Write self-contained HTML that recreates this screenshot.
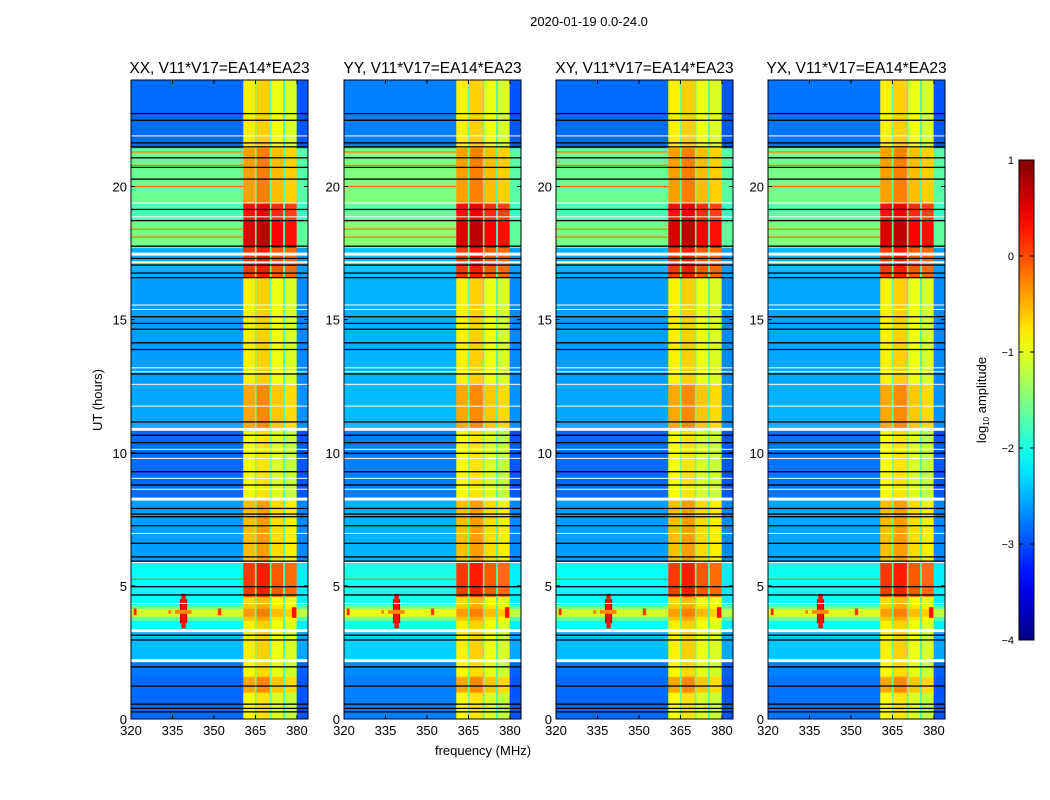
<!DOCTYPE html>
<html><head><meta charset="utf-8">
<style>
html,body{margin:0;padding:0;background:#fff;}
svg{display:block;font-family:"Liberation Sans","DejaVu Sans",sans-serif;}
</style></head>
<body>
<svg id="chart" width="1050" height="800" viewBox="0 0 1050 800" xmlns="http://www.w3.org/2000/svg">
<text x="589" y="26" font-size="13" text-anchor="middle">2020-01-19 0.0-24.0</text>
<text x="483" y="755" font-size="13" text-anchor="middle">frequency (MHz)</text>
<text x="102" y="400" font-size="13" text-anchor="middle" transform="rotate(-90 102 400)">UT (hours)</text>
<g id="panels"></g>
<g id="cbar"></g>
</svg>
<script>
// ---- data ----
const panelTitles = ["XX, V11*V17=EA14*EA23","YY, V11*V17=EA14*EA23","XY, V11*V17=EA14*EA23","YX, V11*V17=EA14*EA23"];
const panelOffsets = [0, 0.1, 0, 0.05];
const xTicks = [320,335,350,365,380];
const yTicks = [0,5,10,15,20];
const cbarTicks = [1,0,-1,-2,-3,-4];
// time segments (hours)
const segStart = [0, 1.0, 1.6, 2.2, 3.3, 3.7, 3.85, 4.15, 4.3, 4.6, 5.9, 8.3, 10.9, 12.6, 16.6, 17.7, 18.7, 19.4, 21.45];
const segEnd   = [1.0, 1.6, 2.2, 3.3, 3.7, 3.85, 4.15, 4.3, 4.6, 5.9, 8.3, 10.9, 12.6, 16.6, 17.7, 18.7, 19.4, 21.45, 24];
// background level and RFI band level per segment (log10 amplitude)
const bgLevel   = [-2.85,-2.85,-2.8,-2.45,-2.1,-1.6,-1.1,-1.6,-2.1,-2.1,-2.6,-2.85,-2.55,-2.6,-2.5,-1.55,-1.75,-1.6,-2.85];
const bandLevel = [-0.9,-0.45,-0.85,-0.8,-0.8,-0.6,-0.4,-0.6,-0.7,0.1,-0.55,-0.9,-0.45,-0.8,0.1,0.55,0.3,-0.4,-0.8];
// frequency columns (MHz), kind (0 bg, 1 band, 2 gap), offset
const colStart  = [320, 360.6, 364.8, 365.4, 370.2, 370.8, 375.0, 375.7, 379.9];
const colEnd    = [360.6, 364.8, 365.4, 370.2, 370.8, 375.0, 375.7, 379.9, 384];
const colKind   = [0, 1, 2, 1, 2, 1, 2, 1, 0];
const colOffset = [0, 0, 0.4, 0.15, 0.4, -0.15, 0.2, -0.25, 0];
// localized features: freq centre, width MHz, t0, t1, value
const featFreq = [339, 339, 338.9, 321.5, 352, 379, 334];
const featWidth= [2.6, 1.6, 6.0, 1.0, 1.2, 1.6, 1.0];
const featT0   = [3.6, 3.4, 3.95, 3.9, 3.9, 3.8, 3.95];
const featT1   = [4.5, 4.7, 4.1, 4.15, 4.15, 4.2, 4.1];
const featVal  = [0.6, 0.3, -0.3, 0.2, 0.1, 0.3, -0.3];
// horizontal lines
const orangeLines = [5.25, 18.1, 18.4, 20.0, 20.8, 21.3];
const blackLines = [0.27,0.40,0.56,1.24,1.96,2.97,3.15,4.66,4.97,5.93,6.09,6.60,7.26,7.60,7.70,7.91,8.79,9.29,9.98,10.38,10.66,11.16,12.96,13.88,14.13,14.64,14.86,15.11,16.58,16.75,17.05,17.30,17.76,18.72,19.14,20.28,20.72,21.08,21.49,21.64,22.49,22.74];
const whiteLines = [2.19,3.32,4.34,5.88,6.97,8.26,8.63,9.04,9.79,10.13,10.88,11.75,12.57,13.04,13.19,15.38,15.55,17.15,17.46,18.86,19.38,21.9];
const whiteWidth = [3,3,1,1,1,3,1,1,1,1,3,1,1,1,1,1,1,2,3,1,1,1];

// ---- drawing ----
const NS = "http://www.w3.org/2000/svg";
function mk(tag, attrs, parent){const e=document.createElementNS(NS,tag);for(const k in attrs)e.setAttribute(k,attrs[k]);parent.appendChild(e);return e;}
function jet(v){
  let t=(v+4)/5; t=Math.max(0,Math.min(1,t));
  const r=Math.max(0,Math.min(1,1.5-Math.abs(4*t-3)));
  const g=Math.max(0,Math.min(1,1.5-Math.abs(4*t-2)));
  const b=Math.max(0,Math.min(1,1.5-Math.abs(4*t-1)));
  return `rgb(${Math.round(r*255)},${Math.round(g*255)},${Math.round(b*255)})`;
}
const panelX = [131, 344, 556, 768];
const PW = 177, PT = 80, PB = 719;
const panels = document.getElementById('panels');
panelX.forEach((x0, p) => {
  const g = mk('g', {}, panels);
  
  
  const xs = f => x0 + (f - 320) / 64 * PW;
  const ys = h => PB - h / 24 * (PB - PT);
  const off = panelOffsets[p];
  for (let s = 0; s < segStart.length; s++) {
    for (let c = 0; c < colStart.length; c++) {
      let v;
      if (colKind[c] === 0) v = bgLevel[s] + off;
      else if (colKind[c] === 1) v = bandLevel[s] + colOffset[c];
      else v = Math.min(bandLevel[s], -1.2) - 0.8 + colOffset[c];
      if (c === colStart.length - 1) v = bgLevel[s] - 0.1;
      const r = mk('rect', {x: xs(colStart[c]), y: ys(segEnd[s]), width: xs(colEnd[c]) - xs(colStart[c]) + 0.3, height: ys(segStart[s]) - ys(segEnd[s]) + 0.3, fill: jet(v)}, g);
      
      
    }
  }
  for (let i = 0; i < featFreq.length; i++) {
    const r = mk('rect', {x: xs(featFreq[i] - featWidth[i]/2), y: ys(featT1[i]), width: xs(featFreq[i]+featWidth[i]/2) - xs(featFreq[i]-featWidth[i]/2), height: ys(featT0[i]) - ys(featT1[i]), fill: jet(featVal[i])}, g);
    
    
  }
  orangeLines.forEach(h => {
    const l = mk('rect', {x: x0, y: ys(h) - 0.5, width: xs(360.6) - x0, height: 1.2, fill: jet(-0.2)}, g);
    
    
  });
  blackLines.forEach(h => {
    const l = mk('rect', {x: x0, y: ys(h) - 0.6, width: PW, height: 1.3, fill: '#000'}, g);
    
    
  });
  whiteLines.forEach((h, i) => {
    const l = mk('rect', {x: x0, y: ys(h) - whiteWidth[i]/2, width: PW, height: whiteWidth[i], fill: '#fff'}, g);
    
    
  });
  const fr = mk('rect', {x: x0, y: PT, width: PW, height: PB - PT, fill: 'none', stroke: '#000', 'stroke-width': 1}, g);
  
  
  const t = mk('text', {x: x0 + PW/2, y: 73, 'font-size': 15.5, 'text-anchor': 'middle'}, g);
  t.textContent = panelTitles[p];
  
  
  xTicks.forEach(f => {
    mk('line', {x1: xs(f), x2: xs(f), y1: PB, y2: PB - 4, stroke: '#000'}, g);
    mk('line', {x1: xs(f), x2: xs(f), y1: PT, y2: PT + 4, stroke: '#000'}, g);
    const tl = mk('text', {x: xs(f), y: PB + 16, 'font-size': 13, 'text-anchor': 'middle'}, g);
    tl.textContent = f;
    
    
  });
  yTicks.forEach(h => {
    mk('line', {x1: x0, x2: x0 + 4, y1: ys(h), y2: ys(h), stroke: '#000'}, g);
    mk('line', {x1: x0 + PW, x2: x0 + PW - 4, y1: ys(h), y2: ys(h), stroke: '#000'}, g);
    const tl = mk('text', {x: x0 - 4, y: ys(h) + 5, 'font-size': 13, 'text-anchor': 'end'}, g);
    tl.textContent = h;
    
    
  });
});
const cb = document.getElementById('cbar');
const defs = mk('defs', {}, cb);
const grad = mk('linearGradient', {id: 'jetg', x1: 0, y1: 1, x2: 0, y2: 0}, defs);
for (let i = 0; i <= 20; i++) mk('stop', {offset: i/20, 'stop-color': jet(-4 + 5*i/20)}, grad);
const cbTop = 160, cbBot = 640, cbX = 1019, cbW = 15;
mk('rect', {x: cbX, y: cbTop, width: cbW, height: cbBot - cbTop, fill: 'url(#jetg)', stroke: '#000', 'stroke-width': 1}, cb);
const cy = v => cbBot - (v + 4) / 5 * (cbBot - cbTop);
cbarTicks.forEach(v => {
  mk('line', {x1: cbX, x2: cbX + 4, y1: cy(v), y2: cy(v), stroke: '#000'}, cb);
  mk('line', {x1: cbX + cbW, x2: cbX + cbW - 4, y1: cy(v), y2: cy(v), stroke: '#000'}, cb);
  const tl = mk('text', {x: cbX - 5, y: cy(v) + 4, 'font-size': 11, 'text-anchor': 'end'}, cb);
  tl.textContent = v < 0 ? '\u2212' + (-v) : v;
  
  
});
const cl = mk('text', {x: 986, y: 400, 'font-size': 13, 'text-anchor': 'middle', transform: 'rotate(-90 986 400)'}, cb);
cl.innerHTML = 'log<tspan font-size="8" dy="3">10</tspan><tspan dy="-3"> amplitude</tspan>';


</script>
</body></html>
